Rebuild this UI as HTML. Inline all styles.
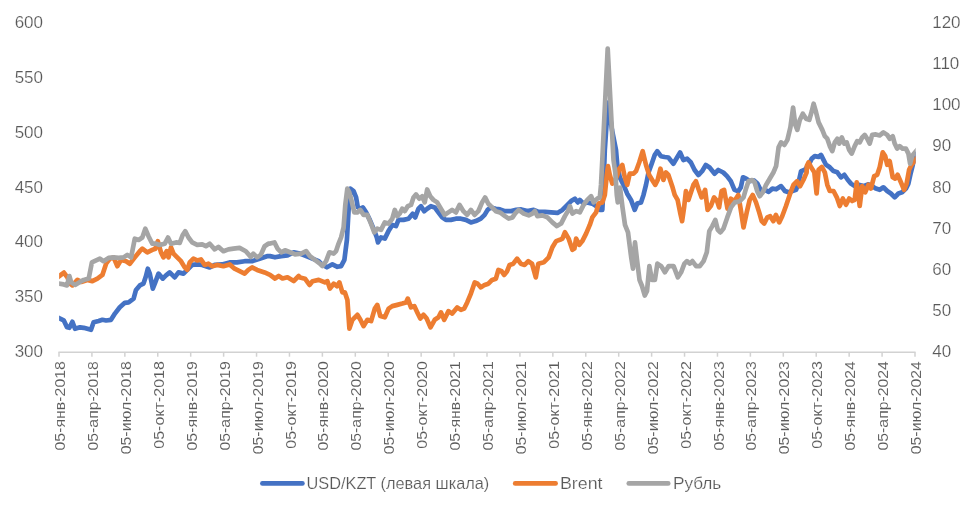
<!DOCTYPE html>
<html lang="ru"><head><meta charset="utf-8"><title>USD/KZT, Brent, Рубль</title>
<style>
html,body{margin:0;padding:0;background:#fff;}
body{width:974px;height:514px;overflow:hidden;font-family:"Liberation Sans",sans-serif;}
svg{display:block;opacity:0.999;will-change:transform;}
text{font-family:"Liberation Sans",sans-serif;font-size:17px;fill:#595959;stroke:#fff;stroke-width:0.2px;}
.xl{font-size:15.5px;stroke-width:0.1px;}.lg{font-size:16.5px;}
.ln{fill:none;stroke-width:4.7;stroke-linejoin:round;stroke-linecap:round;}
</style></head><body>
<svg width="974" height="514" viewBox="0 0 974 514">
<rect x="0" y="0" width="974" height="514" fill="#ffffff"/>
<text x="43.0" y="28.0" text-anchor="end">600</text>
<text x="43.0" y="82.8" text-anchor="end">550</text>
<text x="43.0" y="137.7" text-anchor="end">500</text>
<text x="43.0" y="192.6" text-anchor="end">450</text>
<text x="43.0" y="247.4" text-anchor="end">400</text>
<text x="43.0" y="302.2" text-anchor="end">350</text>
<text x="43.0" y="357.1" text-anchor="end">300</text>
<text x="932.2" y="28.0">120</text>
<text x="932.2" y="69.1">110</text>
<text x="932.2" y="110.3">100</text>
<text x="932.2" y="151.4">90</text>
<text x="932.2" y="192.6">80</text>
<text x="932.2" y="233.7">70</text>
<text x="932.2" y="274.8">60</text>
<text x="932.2" y="316.0">50</text>
<text x="932.2" y="357.1">40</text>
<g stroke="#D2D2D2" stroke-width="1.5" fill="none">
<line x1="58.4" y1="352.3" x2="915.6" y2="352.3"/>
<line x1="59.00" y1="352.3" x2="59.00" y2="356.7"/>
<line x1="91.92" y1="352.3" x2="91.92" y2="356.7"/>
<line x1="124.85" y1="352.3" x2="124.85" y2="356.7"/>
<line x1="157.77" y1="352.3" x2="157.77" y2="356.7"/>
<line x1="190.69" y1="352.3" x2="190.69" y2="356.7"/>
<line x1="223.62" y1="352.3" x2="223.62" y2="356.7"/>
<line x1="256.54" y1="352.3" x2="256.54" y2="356.7"/>
<line x1="289.46" y1="352.3" x2="289.46" y2="356.7"/>
<line x1="322.38" y1="352.3" x2="322.38" y2="356.7"/>
<line x1="355.31" y1="352.3" x2="355.31" y2="356.7"/>
<line x1="388.23" y1="352.3" x2="388.23" y2="356.7"/>
<line x1="421.15" y1="352.3" x2="421.15" y2="356.7"/>
<line x1="454.08" y1="352.3" x2="454.08" y2="356.7"/>
<line x1="487.00" y1="352.3" x2="487.00" y2="356.7"/>
<line x1="519.92" y1="352.3" x2="519.92" y2="356.7"/>
<line x1="552.85" y1="352.3" x2="552.85" y2="356.7"/>
<line x1="585.77" y1="352.3" x2="585.77" y2="356.7"/>
<line x1="618.69" y1="352.3" x2="618.69" y2="356.7"/>
<line x1="651.62" y1="352.3" x2="651.62" y2="356.7"/>
<line x1="684.54" y1="352.3" x2="684.54" y2="356.7"/>
<line x1="717.46" y1="352.3" x2="717.46" y2="356.7"/>
<line x1="750.38" y1="352.3" x2="750.38" y2="356.7"/>
<line x1="783.31" y1="352.3" x2="783.31" y2="356.7"/>
<line x1="816.23" y1="352.3" x2="816.23" y2="356.7"/>
<line x1="849.15" y1="352.3" x2="849.15" y2="356.7"/>
<line x1="882.08" y1="352.3" x2="882.08" y2="356.7"/>
<line x1="915.00" y1="352.3" x2="915.00" y2="356.7"/>
</g>
<text class="xl" transform="translate(65.10,450.5) rotate(-90)" textLength="89.4" lengthAdjust="spacingAndGlyphs">05-янв-2018</text>
<text class="xl" transform="translate(98.02,450.5) rotate(-90)" textLength="89.4" lengthAdjust="spacingAndGlyphs">05-апр-2018</text>
<text class="xl" transform="translate(130.95,454.3) rotate(-90)" textLength="93.2" lengthAdjust="spacingAndGlyphs">05-июл-2018</text>
<text class="xl" transform="translate(163.87,448.7) rotate(-90)" textLength="87.6" lengthAdjust="spacingAndGlyphs">05-окт-2018</text>
<text class="xl" transform="translate(196.79,450.5) rotate(-90)" textLength="89.4" lengthAdjust="spacingAndGlyphs">05-янв-2019</text>
<text class="xl" transform="translate(229.72,450.5) rotate(-90)" textLength="89.4" lengthAdjust="spacingAndGlyphs">05-апр-2019</text>
<text class="xl" transform="translate(262.64,454.3) rotate(-90)" textLength="93.2" lengthAdjust="spacingAndGlyphs">05-июл-2019</text>
<text class="xl" transform="translate(295.56,448.7) rotate(-90)" textLength="87.6" lengthAdjust="spacingAndGlyphs">05-окт-2019</text>
<text class="xl" transform="translate(328.48,450.5) rotate(-90)" textLength="89.4" lengthAdjust="spacingAndGlyphs">05-янв-2020</text>
<text class="xl" transform="translate(361.41,450.5) rotate(-90)" textLength="89.4" lengthAdjust="spacingAndGlyphs">05-апр-2020</text>
<text class="xl" transform="translate(394.33,454.3) rotate(-90)" textLength="93.2" lengthAdjust="spacingAndGlyphs">05-июл-2020</text>
<text class="xl" transform="translate(427.25,448.7) rotate(-90)" textLength="87.6" lengthAdjust="spacingAndGlyphs">05-окт-2020</text>
<text class="xl" transform="translate(460.18,450.5) rotate(-90)" textLength="89.4" lengthAdjust="spacingAndGlyphs">05-янв-2021</text>
<text class="xl" transform="translate(493.10,450.5) rotate(-90)" textLength="89.4" lengthAdjust="spacingAndGlyphs">05-апр-2021</text>
<text class="xl" transform="translate(526.02,454.3) rotate(-90)" textLength="93.2" lengthAdjust="spacingAndGlyphs">05-июл-2021</text>
<text class="xl" transform="translate(558.95,448.7) rotate(-90)" textLength="87.6" lengthAdjust="spacingAndGlyphs">05-окт-2021</text>
<text class="xl" transform="translate(591.87,450.5) rotate(-90)" textLength="89.4" lengthAdjust="spacingAndGlyphs">05-янв-2022</text>
<text class="xl" transform="translate(624.79,450.5) rotate(-90)" textLength="89.4" lengthAdjust="spacingAndGlyphs">05-апр-2022</text>
<text class="xl" transform="translate(657.72,454.3) rotate(-90)" textLength="93.2" lengthAdjust="spacingAndGlyphs">05-июл-2022</text>
<text class="xl" transform="translate(690.64,448.7) rotate(-90)" textLength="87.6" lengthAdjust="spacingAndGlyphs">05-окт-2022</text>
<text class="xl" transform="translate(723.56,450.5) rotate(-90)" textLength="89.4" lengthAdjust="spacingAndGlyphs">05-янв-2023</text>
<text class="xl" transform="translate(756.48,450.5) rotate(-90)" textLength="89.4" lengthAdjust="spacingAndGlyphs">05-апр-2023</text>
<text class="xl" transform="translate(789.41,454.3) rotate(-90)" textLength="93.2" lengthAdjust="spacingAndGlyphs">05-июл-2023</text>
<text class="xl" transform="translate(822.33,448.7) rotate(-90)" textLength="87.6" lengthAdjust="spacingAndGlyphs">05-окт-2023</text>
<text class="xl" transform="translate(855.25,450.5) rotate(-90)" textLength="89.4" lengthAdjust="spacingAndGlyphs">05-янв-2024</text>
<text class="xl" transform="translate(888.18,450.5) rotate(-90)" textLength="89.4" lengthAdjust="spacingAndGlyphs">05-апр-2024</text>
<text class="xl" transform="translate(921.10,454.3) rotate(-90)" textLength="93.2" lengthAdjust="spacingAndGlyphs">05-июл-2024</text>
<defs><clipPath id="pc"><rect x="59.1" y="0" width="856.6" height="514"/></clipPath></defs>
<g clip-path="url(#pc)">
<polyline class="ln" stroke="#4472C4" points="58,317.6 63.7,320.3 67,327.3 69.4,327.8 72.4,321.8 75,328.8 80,327.3 83.7,327.8 87.4,328.8 91,329.8 93.6,322.3 98.6,321 102.4,319.8 106,320.5 111,319.8 114.9,313.6 119.8,307.3 124.8,302.8 128.6,302.3 133.6,298.6 136,289.9 139.8,285.4 143.5,283.6 146,276 147.8,268.7 149.8,273.6 152.8,288.6 154.8,283.6 158.5,273.6 162.8,278.6 166,275.4 169.7,272.4 174.7,277.4 178.5,272.4 183.5,273.6 187.2,269.9 192.2,264.9 197.2,264.4 202.2,264.9 209.7,267.4 214.7,264.9 222,264.4 229.6,262.4 237,262.4 244.6,261.2 252,261.2 259.6,258.7 267,256.2 270,256.1 275,257.3 281.2,256.1 287.5,255.3 293.7,252.3 299.9,253.6 306.2,256.1 312.4,258.6 318.7,261.1 322.4,264.8 326.9,267.3 332.4,264.3 337.4,266.8 341.1,266.1 344.4,259.8 346.9,239.9 348.6,209.9 350.3,188.7 353.6,191.2 356.1,197.4 357.8,207.4 361.1,208.7 362.8,207.4 366.1,212.4 369.8,219.9 373.5,228.6 376.8,237.4 378,242.4 381,237.4 384.8,238.6 388.5,231.1 392.3,224.9 396,226.1 398.5,219.9 403.5,219.9 408.5,218.7 412.7,213.7 415.2,217.4 418.5,208.7 421,206.2 424.2,211.2 427.2,208.7 430.9,206.2 434.7,207.4 438.4,212.4 442.2,217.4 445.9,219.9 450.9,219.9 455.9,218.7 460.9,218.7 465.9,219.9 470.9,222.4 475.8,221.1 480.8,218.7 484.6,214.9 487.6,209.9 490.8,207.4 495.8,208.7 500,209.4 505,211.1 511.2,211.1 516.2,209.9 521.2,209.4 527.4,211.1 533.7,209.9 538.7,211.9 544.9,211.9 551.1,212.4 557.4,212.9 562.4,209.9 567.4,204.9 571.1,201.1 574.9,198.7 577.8,202.4 579.8,199.9 583.6,203.6 587.3,202.4 592.3,203.6 596.1,206.1 599.8,209.9 602.3,209.9 603.5,187.4 604.8,150 608,102.6 612,130 616,150 617.3,165 619.8,177.4 623.5,184.9 627.2,193.7 631,199.9 634.7,209.9 637.2,203.6 641,202.4 643.5,194.9 646,184.9 648.5,172.5 651.7,163.7 654.7,155 657.2,151.2 660.9,156.2 664.7,157 668.4,157.5 673.4,163.7 677.1,157.5 680.1,152.5 683.4,160 687.1,158.7 690.9,162.5 694.6,170 698.4,175 702.1,171.2 705.8,165 709.6,167.5 714.6,173.7 718.3,170 723.3,172.5 727,176.2 730.8,181.2 734.5,189.9 738.3,191.2 740.8,187.4 743,177.3 746.2,178.6 749.9,181.1 753.7,180.3 757.4,183.6 761.2,191 764.9,189.8 768.7,191.8 772.4,188.6 776.1,189.3 781.1,186.1 784.9,191 788.6,192.3 792.4,191 796.1,189.8 798.6,182.3 801.1,171.1 804.8,169.8 808.6,164.8 811.8,158.6 814.8,156.1 818.6,156.9 821,154.9 823.5,159.9 826,164.8 829.8,167.3 833.5,171.1 837.3,172.3 841,177.3 844.3,174.8 847.7,179.8 851,183.6 854.7,186.1 858.5,184.8 863.5,186.1 868.5,184.3 872.2,186.1 875.9,188.6 879.7,189.8 883.4,187.3 887.2,191 890.9,193.5 894.7,197.3 898.4,193.5 902.1,192.3 905.9,188.6 908.4,183.6 910.9,172.3 913.4,162.4 917,153.5"/>
<polyline class="ln" stroke="#ED7D31" points="58,277 63.9,272.6 67.4,277.4 70,283.6 72.4,285.4 77.4,279.9 81.2,281.9 87.4,279.9 92.4,281.1 97.4,278.6 102.4,274.9 106.1,263.7 109.9,258.7 113.6,257.4 117.3,266.2 121.1,259.9 126.1,261.2 129.8,263.7 134.8,257.4 139.8,251.2 142.3,248.7 147.3,252.4 152.3,249.9 155.3,248.7 157.8,241.2 161,252.4 163.5,257.4 166.7,251.2 168.5,257.4 171,247.4 173.5,253.7 177.2,257.4 181,261.2 184.7,267.4 187.2,269.9 189.7,262.4 193.4,258.7 197.2,260.4 200.9,259.4 204.7,264.9 208.4,263.7 212.2,266.2 217.1,264.9 223.4,266.2 229.6,264.4 234.6,268.7 239.6,271.1 244.6,273.6 248.3,269.9 252.1,267.4 257.1,269.9 264.6,272.4 270,274.8 275,278.5 278.7,276 282.5,278.5 287.5,277.3 293.7,281 298.7,276 300,277.4 305,278.7 309.5,284.9 312.5,281.2 318.7,279.9 324.9,282.4 327.4,281.2 329.9,288.6 333.7,283.7 336.9,286.2 339.4,282.4 342.4,292.4 344.9,292.4 347.4,299.9 349.4,328.6 352.4,319.8 354.9,317.3 357.4,314.8 360.4,319.8 363.6,326.1 367.4,319.8 371.1,321.1 374.8,308.6 377.3,304.9 380.3,316.1 384.8,317.3 388.6,308.6 392.3,306.1 397.3,304.9 402.3,303.6 406,302.4 407.8,298.6 411,307.4 414.3,306.1 417.3,312.4 420.3,318.6 423.5,314.8 426.7,318.6 430.5,327.3 434.7,319.8 438.5,317.3 441,312.4 444.2,319.8 448.5,311.1 452.2,313.6 457.2,307.4 460.9,309.9 464.2,308.6 467.2,302.4 470.9,293.6 474.7,282.4 477.6,283.7 480.9,287.4 484.6,284.9 488.4,283.7 492.1,279.9 495.9,278.7 498.4,269.9 501.6,271.2 504.1,274.9 507.1,271.2 509.6,264.9 513.3,263.7 517.1,258.7 520.8,263.7 524.6,264.9 528.3,261.2 532,263.7 535.8,277.4 538.3,263.7 543,262.5 543.7,262.3 548.7,257.3 552.4,247.3 556.1,241.1 559.9,239.8 562.4,238.6 564.9,232.3 568.6,238.6 572.4,249.8 574.4,248.6 576.1,238.6 579.3,244.8 582.3,241.1 586.1,233.6 589.8,224.9 592.3,217.4 596.1,212.4 598.6,203.6 602.3,202.4 604.8,194.9 606.8,175 608,166.2 609.8,175 612.3,183.7 614.8,181.2 617.3,175 619.3,168.7 622.3,165 624.8,177.4 627.2,184.9 629.7,173.7 633.5,173.7 636,171.2 639.2,162.5 642.7,151.2 646,165 649.2,175 652.2,179.9 655.2,184.9 657.7,179.9 660.4,168.7 663.4,179.9 665.9,172.5 668.4,175 672.2,186.2 674.7,194.9 677.6,199.9 680.1,212.4 682.1,221.1 684.1,207.4 685.9,191.2 688.4,199.9 690.9,192.4 693.4,184.9 695.9,181.2 698.4,188.7 701.6,197.4 705.1,189.9 707.6,209.9 710.8,206.1 714.1,197.4 717.1,201.1 719.1,207.4 721.6,191.2 724.1,189.9 727.5,208.6 730.8,198.7 734.5,201.1 738.3,194.9 740.8,209.9 743.5,227.4 746.7,212.4 749.7,199.9 752.7,194.9 756,202.4 759.2,212.4 761.7,221.1 764.2,223.6 767.2,217.4 770.2,216.2 773.4,221.1 775.9,214.9 779.2,222.4 782.2,216.2 785.9,206.2 789.7,194.9 793.4,185 797.1,181.2 800.1,186.2 803.4,180 806.6,172.5 806.8,166.1 808.6,162.4 811.1,167.3 814.3,172.3 816.6,193.5 818.6,169.8 821.8,166.9 824.8,172.3 827.3,184.8 829.8,191 833.5,191 836.8,197.3 839.8,206 842.8,198.5 846,204.8 849.2,198.5 852.2,201 854.7,199.8 856.7,182.3 859.7,206 862.2,186.1 865.2,192.3 868.5,184.8 870.9,188.6 874.2,176.1 877.2,174.8 879.7,167.3 882.7,152.4 885.2,156.1 887.2,164.8 889.7,161.1 892.7,177.3 895.1,178.6 897.6,174.8 900.9,182.3 904.1,189.8 906.6,183.6 909.1,169.8 911.6,164.8 917,158"/>
<polyline class="ln" stroke="#A5A5A5" points="58,283.5 63.7,284.4 67,285.4 69.4,276.1 71.2,282.4 75,284.9 80,281.9 83.7,279.9 88.7,278.6 91.9,262.4 96.1,260.4 99.9,258.7 103.6,261.2 108.6,257.9 113.6,257.4 118.6,257.9 123.6,257.4 127.3,254.9 131.1,257.4 134.8,238.7 138.6,240 142.3,237.5 145.3,228.7 148.5,236.2 152.3,243.7 156,243.7 159.8,244.9 164.8,243.7 168,237.5 171,243.7 176,242.4 179.7,242.9 182.7,235 185.2,231.2 188.5,237.5 192.2,242.4 197.2,244.9 202.2,244.4 205.9,246.2 209.7,243.7 214.7,249.4 218.4,246.9 223.4,251.2 228.4,249.4 233.4,248.7 239.6,247.9 245.8,251.2 250.8,256.9 253.3,253.7 257.1,257.4 260.8,254.9 264.6,246.2 268.3,243.7 270,243.6 274.5,242.4 277.5,248.6 281.2,252.3 285,250.3 290,252.3 295,254.3 301.2,253.6 306.2,251.1 309.9,256.1 314.9,259.8 319.9,263.6 322.4,266.1 326.1,261.1 329.4,252.3 333.6,253.6 336.1,251.1 338.6,243.6 341.1,237.4 343.6,227.4 345.3,204.9 347.3,188.7 349.3,192.4 351.1,198.7 354.3,212.4 357.3,212.4 360.3,209.9 363.6,214.9 367.3,214.9 371,223.6 374.3,232.4 377.3,228.6 381,229.9 384.8,222.4 388.5,223.6 392.3,218.7 394.8,209.9 397.2,216.2 399.7,213.7 402.2,208.7 404.7,211.2 407.7,206.2 411,204.9 413.5,197.4 416,194.4 419.2,198.7 422.2,196.2 424.7,202.4 427.2,189.5 430.2,196.2 433.4,199.9 437.2,202.4 440.9,208.7 444.7,214.9 448.4,212.4 452.1,209.9 455.9,212.4 459.6,204.9 463.4,211.2 467.1,214.9 470.9,209.9 474.6,214.9 478.3,211.2 482.1,202.4 485.1,197.4 488.3,203.7 492.1,207.4 495.8,211.2 500,212.4 505,216.1 508.7,218.6 512.5,217.4 515,213.6 518.7,209.9 523.7,213.6 528.7,215.4 532.4,213.6 534.9,211.1 537.4,216.1 542.4,215.4 547.4,217.4 552.4,222.4 556.9,226.1 561.1,223.6 564.9,216.1 567.9,211.1 569.9,206.1 572.4,213.6 576.1,211.1 579.8,212.4 583.6,204.9 587.3,199.9 591.1,196.2 593.6,202.4 597.3,198.7 599.8,197.4 601,184.9 602.3,160 607.7,48.6 613.5,160 615.3,172.5 616.8,194.9 617.8,202.4 619.8,192.4 620,187.5 622.5,207.4 625,224.9 628,232.4 631.2,257.3 633,268.6 635,242.4 637,259.8 639.5,279.8 642,286 644.8,295.6 647,291 649.4,266.1 651.9,279.8 654.9,279.8 657.4,263.6 661.2,266.1 664.9,272.3 668.7,266.1 673.6,266.1 677.9,277.3 681.1,272.3 684.4,263.6 686.9,261.1 689.9,263.6 692.4,261.1 696.1,266.1 699.8,266.1 703.6,261.1 706.8,252.3 709.3,231.1 712.3,226.1 715.3,219.9 717.8,229.9 720.3,232.4 723.5,228.6 727.3,217.4 731,207.4 734.8,202.4 739.8,201.2 743.5,197.4 746,188.7 748.5,181.2 752.2,180 754.7,182.5 757.2,191.2 759.7,196.2 762.7,192.5 766,185 769.7,178.7 773.4,172.5 776.1,166.1 778.6,147.4 781.1,142.4 784.4,144.9 787.4,139.9 790.4,127.4 793.1,107.5 795.3,124.9 797.3,129.9 799.8,119.9 802.8,113.7 806.1,118.7 809.3,119.9 811.8,111.2 813.6,103.7 816.1,112.5 818.6,122.4 822.3,129.9 824.8,136.2 827.3,138.7 829.8,146.1 832.3,151.1 834.8,142.4 837.3,138.7 839.3,143.6 841.8,137.4 844.3,143.6 846.7,142.4 849.2,149.9 851.7,153.6 854.7,146.1 857.2,141.1 859.7,142.4 862.2,137.4 864.7,134.9 867.2,138.7 869.7,143.6 872.2,134.9 875.9,134.4 879.7,135.4 883.4,132.4 887.2,134.9 889.7,138.7 892.7,136.2 894.7,143.6 897.1,148.6 899.6,146.1 902.6,148.6 905.9,148.6 908.4,153.6 910.1,163.6 912.4,155.4 917,150"/>
</g>
<g class="ln">
<line x1="262.4" y1="483.4" x2="302.4" y2="483.4" stroke="#4472C4"/>
<line x1="515.2" y1="483.4" x2="555.6" y2="483.4" stroke="#ED7D31"/>
<line x1="628.8" y1="483.4" x2="668.2" y2="483.4" stroke="#A5A5A5"/>
</g>
<text class="lg" x="306.5" y="489.3" textLength="182.8" lengthAdjust="spacingAndGlyphs">USD/KZT (левая шкала)</text>
<text class="lg" x="559.9" y="489.3" textLength="42.6" lengthAdjust="spacingAndGlyphs">Brent</text>
<text class="lg" x="672.9" y="489.3" textLength="48.4" lengthAdjust="spacingAndGlyphs">Рубль</text>
</svg></body></html>
